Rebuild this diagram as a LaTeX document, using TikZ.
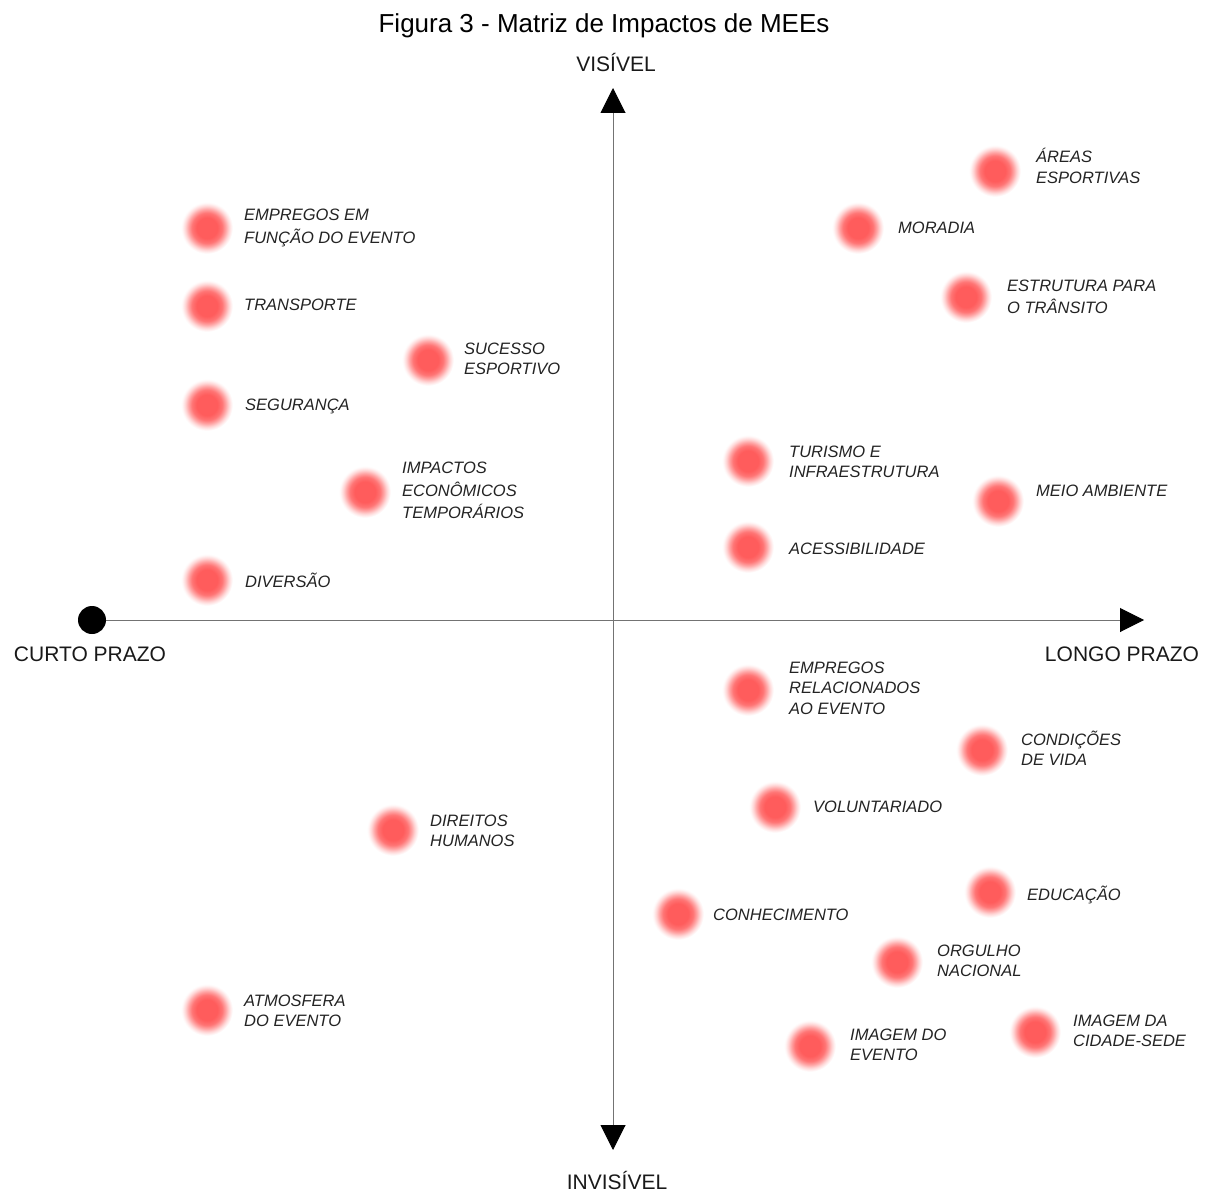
\documentclass[tikz,border=0pt]{standalone}
\usepackage{fontspec}
\setmainfont{Liberation Sans}
\usetikzlibrary{arrows.meta}
\definecolor{dotred}{RGB}{255,92,92}
\colorlet{dotA}{dotred!85!white}
\colorlet{dotB}{dotred!55!white}
\colorlet{dotC}{dotred!25!white}
\colorlet{dotD}{dotred!7!white}
\definecolor{axisgray}{RGB}{115,115,115}
\definecolor{txtgray}{RGB}{35,35,35}
\pgfdeclareradialshading{blurdot}{\pgfpoint{0bp}{0bp}}{color(0bp)=(dotred); color(10bp)=(dotred); color(14.5bp)=(dotA); color(18bp)=(dotB); color(21bp)=(dotC); color(23.5bp)=(dotD); color(25bp)=(white); color(50bp)=(white)}
\tikzset{
  dotnode/.style={circle, minimum size=52pt, inner sep=0pt, draw=none, shade, shading=blurdot},
  lbl/.style={anchor=base west, align=left, inner sep=0pt, text=txtgray,
    font=\fontsize{16.5}{20.5}\selectfont\itshape},
  lblwide/.style={lbl, font=\fontsize{16.5}{22.5}\selectfont\itshape},
  axislbl/.style={anchor=base, inner sep=0pt, text=black!90, font=\fontsize{21}{24}\selectfont},
  axisline/.style={draw=axisgray, line width=1pt},
  axtipH/.tip={Triangle[length=24pt, width=24pt, color=black]},
  axtipV/.tip={Triangle[length=25pt, width=25pt, color=black]},
}
\begin{document}
\begin{tikzpicture}[x=1pt, y=-1pt]
\useasboundingbox (0,0) rectangle (1211,1193);
% title
\node[anchor=base, inner sep=0pt, font=\fontsize{26}{30}\selectfont] (title) at (604,33) {Figura 3 - Matriz de Impactos de MEEs};
% axes
\node[circle, fill=black, minimum size=28pt, inner sep=0pt] (cp) at (92,620) {};
\coordinate (rtip) at (1144,620);
\coordinate (ttip) at (613,88);
\coordinate (btip) at (613,1150);
\draw[axisline, -axtipH] (cp) -- (rtip);
\draw[axisline, axtipV-axtipV] (btip) -- (ttip);
\node[axislbl] (vis) at (616,72) {VISÍVEL};
\node[axislbl] (invis) at (617,1189) {INVISÍVEL};
\node[axislbl] (curto) at (90,661) {CURTO PRAZO};
\node[axislbl] (longo) at (1122,661) {LONGO PRAZO};
% dots
\node[dotnode] (d1) at (207,228) {};
\node[dotnode] (d2) at (207,306) {};
\node[dotnode] (d3) at (428,360) {};
\node[dotnode] (d4) at (207,405) {};
\node[dotnode] (d5) at (365,492) {};
\node[dotnode] (d6) at (207,580) {};
\node[dotnode] (d7) at (995,171) {};
\node[dotnode] (d8) at (858,228) {};
\node[dotnode] (d9) at (966,297) {};
\node[dotnode] (d10) at (748,461) {};
\node[dotnode] (d11) at (998,501) {};
\node[dotnode] (d12) at (748,547) {};
\node[dotnode] (d13) at (748,690) {};
\node[dotnode] (d14) at (982,750) {};
\node[dotnode] (d15) at (775,807) {};
\node[dotnode] (d16) at (393,830) {};
\node[dotnode] (d17) at (990,892) {};
\node[dotnode] (d18) at (678,914) {};
\node[dotnode] (d19) at (897,962) {};
\node[dotnode] (d20) at (207,1010) {};
\node[dotnode] (d21) at (810,1046) {};
\node[dotnode] (d22) at (1035,1032) {};
% labels (anchor = baseline of last line)
\node[lblwide] (l1) at (244,243.5) {EMPREGOS EM\\FUNÇÃO DO EVENTO};
\node[lbl] (l2) at (244,311) {TRANSPORTE};
\node[lbl] (l3) at (464,374.5) {SUCESSO\\ESPORTIVO};
\node[lbl] (l4) at (245,410) {SEGURANÇA};
\node[lblwide] (l5) at (402,518.5) {IMPACTOS\\ECONÔMICOS\\TEMPORÁRIOS};
\node[lbl] (l6) at (245,587) {DIVERSÃO};
\node[lbl] (l7) at (1036,183.5) {ÁREAS\\ESPORTIVAS};
\node[lbl] (l8) at (898,234) {MORADIA};
\node[lblwide] (l9) at (1007,313.5) {ESTRUTURA PARA\\O TRÂNSITO};
\node[lbl] (l10) at (789,477.5) {TURISMO E\\INFRAESTRUTURA};
\node[lbl] (l11) at (1036,496) {MEIO AMBIENTE};
\node[lbl] (l12) at (789,554) {ACESSIBILIDADE};
\node[lbl] (l13) at (789,714) {EMPREGOS\\RELACIONADOS\\AO EVENTO};
\node[lbl] (l14) at (1021,765.5) {CONDIÇÕES\\DE VIDA};
\node[lbl] (l15) at (813,812) {VOLUNTARIADO};
\node[lbl] (l16) at (430,846.5) {DIREITOS\\HUMANOS};
\node[lbl] (l17) at (1027,900) {EDUCAÇÃO};
\node[lbl] (l18) at (713,920) {CONHECIMENTO};
\node[lbl] (l19) at (937,976.5) {ORGULHO\\NACIONAL};
\node[lbl] (l20) at (244,1026.5) {ATMOSFERA\\DO EVENTO};
\node[lbl] (l21) at (850,1060.5) {IMAGEM DO\\EVENTO};
\node[lbl] (l22) at (1073,1046.5) {IMAGEM DA\\CIDADE-SEDE};
\end{tikzpicture}
\end{document}
